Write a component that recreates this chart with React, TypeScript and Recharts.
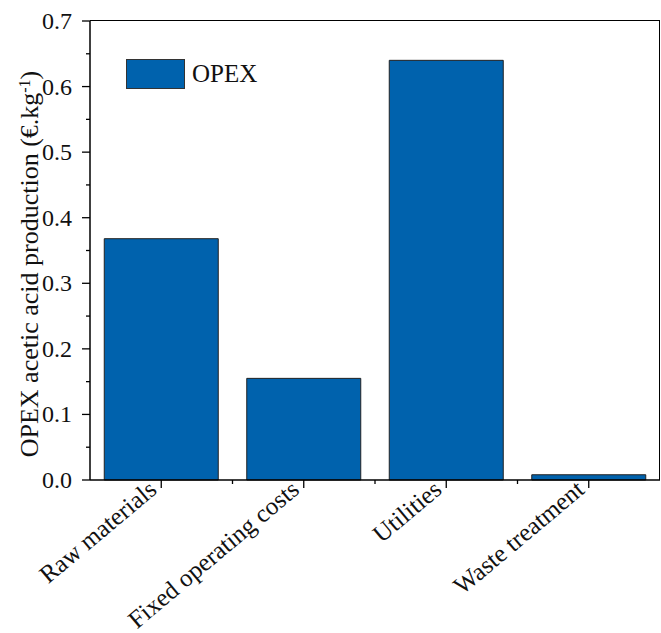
import React from 'react';
import { BarChart, Bar, XAxis, YAxis } from 'recharts';

const categories = ['Raw materials', 'Fixed operating costs', 'Utilities', 'Waste treatment'];
const opexValues = [0.368, 0.155, 0.64, 0.008];
const yTicks = [0, 0.05, 0.1, 0.15, 0.2, 0.25, 0.3, 0.35, 0.4, 0.45, 0.5, 0.55, 0.6, 0.65, 0.7];
const yLabels = ['0.0', '0.1', '0.2', '0.3', '0.4', '0.5', '0.6', '0.7'];
const seriesName = 'OPEX';

const data = categories.map((name, i) => ({ name, opex: opexValues[i] }));

const FONT = '"Liberation Serif", "Times New Roman", serif';
const BAR_COLOR = '#0062ad';
const BAND = 570 / 4;

function YTick(props: any) {
  const { x, y, index } = props;
  const major = index % 2 === 0;
  return (
    <g>
      <line x1={x - (major ? 8 : 4)} x2={x} y1={y} y2={y} stroke="#000" strokeWidth={1.3} />
      {major && (
        <text x={x - 18} y={y} dy={8} textAnchor="end" fontFamily={FONT} fontSize={24} fill="#111">
          {yLabels[index / 2]}
        </text>
      )}
    </g>
  );
}

function XTick(props: any) {
  const { x, y, payload, index } = props;
  return (
    <g>
      <line x1={x} x2={x} y1={y} y2={y + 8} stroke="#000" strokeWidth={1.3} />
      {index < categories.length - 1 && (
        <line x1={x + BAND / 2} x2={x + BAND / 2} y1={y} y2={y + 4} stroke="#000" strokeWidth={1.3} />
      )}
      <text
        transform={`translate(${x - 3},${y + 12}) rotate(-40)`}
        textAnchor="end"
        fontFamily={FONT}
        fontSize={25}
        fill="#111"
      >
        {payload.value}
      </text>
    </g>
  );
}

export default function App() {
  return (
    <div style={{ position: 'absolute', left: 0, top: 0, width: 661, height: 633, background: '#fff' }}>
      <BarChart
        width={661}
        height={633}
        data={data}
        margin={{ top: 21, right: 1, bottom: 0, left: 0 }}
        barCategoryGap="10%"
      >
        <XAxis
          dataKey="name"
          height={153}
          interval={0}
          tickLine={false}
          tickSize={0}
          tickMargin={0}
          axisLine={{ stroke: '#000', strokeWidth: 1.5 }}
          tick={<XTick />}
        />
        <YAxis
          width={90}
          domain={[0, 0.7]}
          ticks={yTicks}
          interval={0}
          tickLine={false}
          tickSize={0}
          tickMargin={0}
          axisLine={{ stroke: '#000', strokeWidth: 1.5 }}
          tick={<YTick />}
          label={{
            content: () => (
              <text
                transform="translate(38,264) rotate(-90)"
                textAnchor="middle"
                fontFamily={FONT}
                fontSize={26}
                fill="#111"
              >
                OPEX acetic acid production (€.kg
                <tspan baselineShift="super" fontSize={16}>-1</tspan>
                )
              </text>
            ),
          }}
        />
        <Bar dataKey="opex" name={seriesName} fill={BAR_COLOR} stroke="#222" strokeWidth={1} isAnimationActive={false} />
      </BarChart>
      {/* top and right frame of the plot box */}
      <div style={{ position: 'absolute', left: 90, top: 20, width: 570, height: 460, borderTop: '1.5px solid #000', borderRight: '1.5px solid #000', boxSizing: 'border-box', pointerEvents: 'none' }} />
      {/* legend */}
      <div style={{ position: 'absolute', left: 126, top: 59, display: 'flex', alignItems: 'center', fontFamily: FONT, fontSize: 25, color: '#111' }}>
        <div style={{ width: 57, height: 28, background: BAR_COLOR, border: '1px solid #333' }} />
        <span style={{ marginLeft: 7 }}>{seriesName}</span>
      </div>
    </div>
  );
}
